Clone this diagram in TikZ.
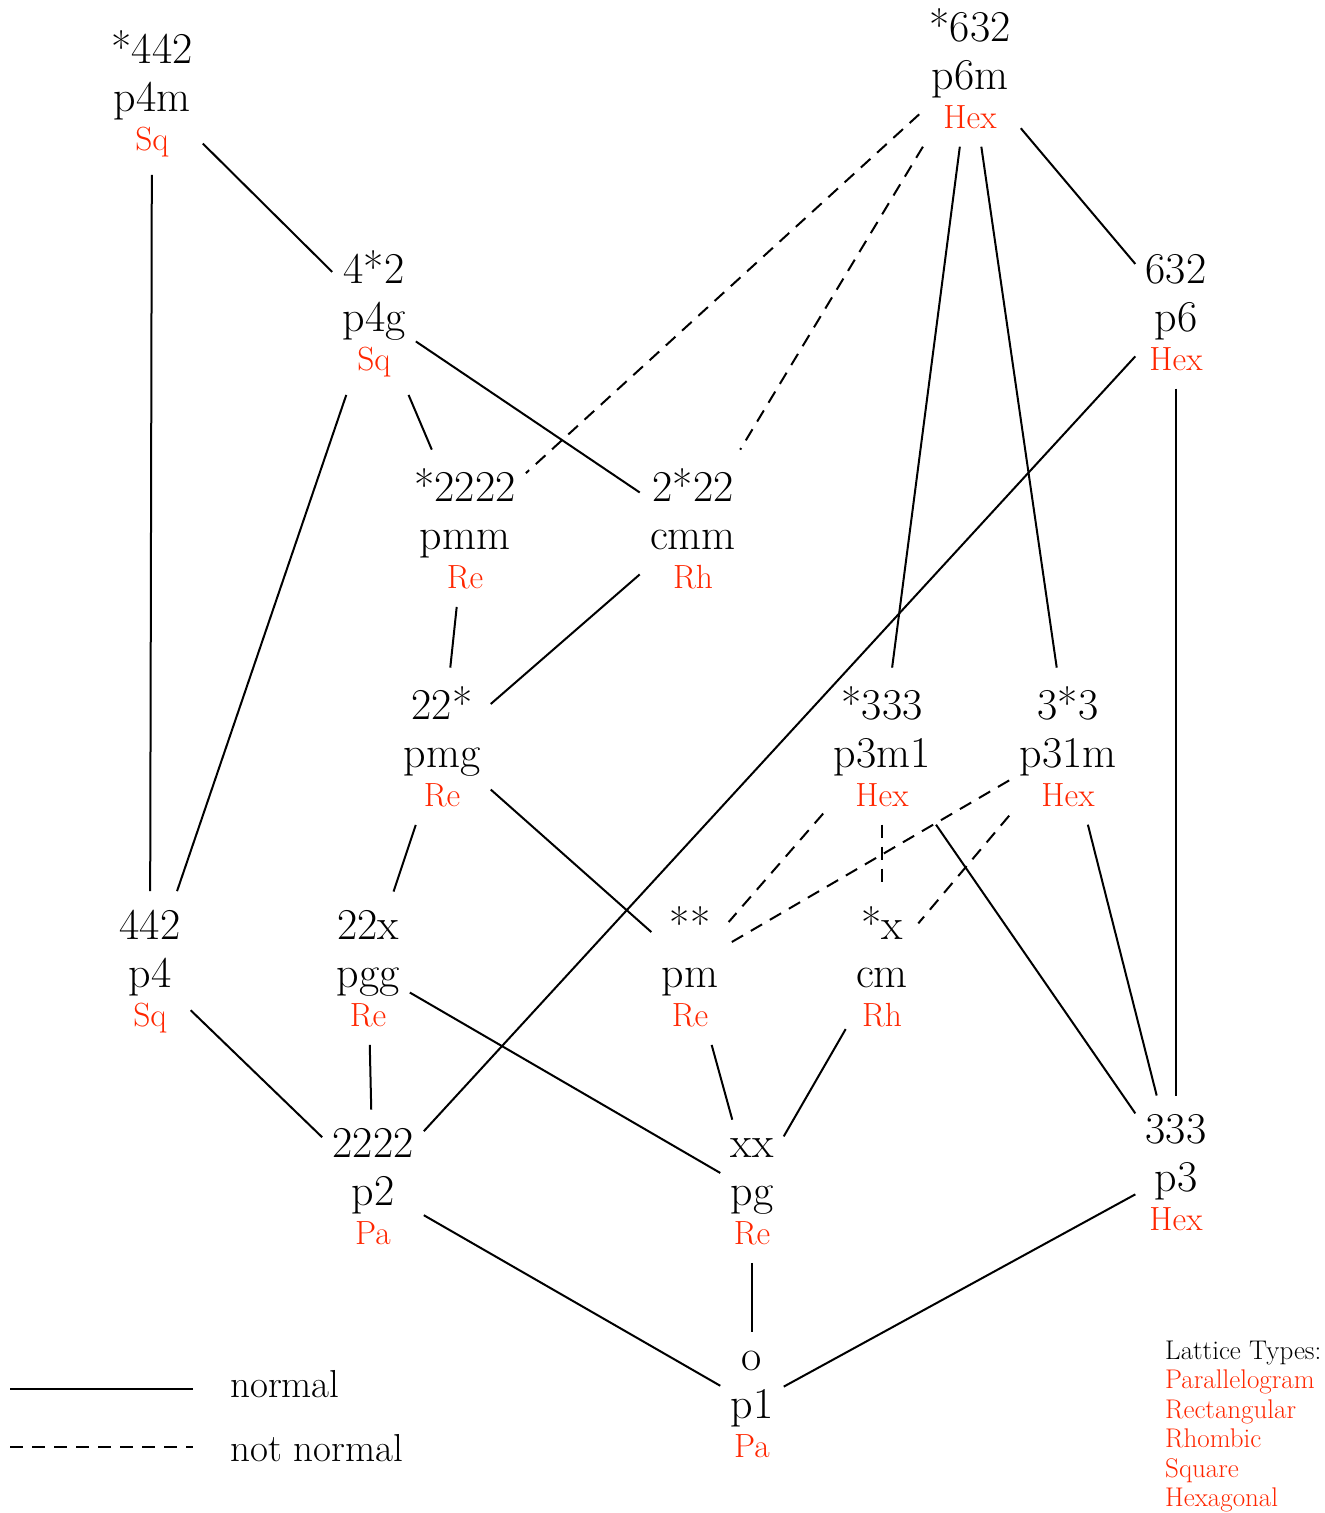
\documentclass[tikz,border=0pt]{standalone}
\usetikzlibrary{fit}
\definecolor{latred}{RGB}{255,38,0}
\tikzset{
  orb/.style={inner sep=0pt, anchor=base, font=\fontsize{44}{52}\selectfont},
  lat/.style={inner sep=0pt, anchor=base, text=latred, font=\fontsize{33.5}{40}\selectfont},
  grpbox/.style={rectangle, draw=none, inner xsep=10pt, inner ysep=18pt},
  normaledge/.style={line width=2pt},
  notnormal/.style={line width=2pt, dash pattern=on 13pt off 9pt},
  legtext/.style={inner sep=0pt, anchor=base west, font=\fontsize{39}{46}\selectfont},
  lattext/.style={inner sep=0pt, anchor=base west, font=\fontsize{27}{32}\selectfont},
}
\newcommand\wpgroup[6]{%
  \node[orb] (#1o) at (#2,#3) {#4};
  \node[orb] (#1i) at (#2,#3+48) {#5};
  \node[lat] (#1l) at (#2,#3+87) {#6};
  \node[grpbox, fit=(#1o)(#1i)(#1l)] (#1) {};
}
\begin{document}
\begin{tikzpicture}[x=1pt,y=-1pt]
\useasboundingbox (0,0) rectangle (1325,1513);

\wpgroup{p4m}{152}{63}{*442}{p4m}{Sq}
\wpgroup{p6m}{970}{41}{*632}{p6m}{Hex}
\wpgroup{p4g}{374}{283}{4*2}{p4g}{Sq}
\wpgroup{p6}{1176}{283}{632}{p6}{Hex}
\wpgroup{pmm}{465}{501}{*2222}{pmm}{Re}
\wpgroup{cmm}{693}{501}{2*22}{cmm}{Rh}
\wpgroup{pmg}{442}{719}{22*}{pmg}{Re}
\wpgroup{p3m1}{882}{719}{*333}{p3m1}{Hex}
\wpgroup{p31m}{1068}{719}{3*3}{p31m}{Hex}
\wpgroup{p4}{150}{939}{442}{p4}{Sq}
\wpgroup{pgg}{368}{939}{22x}{pgg}{Re}
\wpgroup{pm}{690}{939}{**}{pm}{Re}
\wpgroup{cm}{882}{939}{*x}{cm}{Rh}
\wpgroup{p2}{373}{1157}{2222}{p2}{Pa}
\wpgroup{pg}{752}{1157}{xx}{pg}{Re}
\wpgroup{p3}{1176}{1143}{333}{p3}{Hex}
\wpgroup{p1}{752}{1370}{o}{p1}{Pa}

% normal subgroups
\draw[normaledge] (p4m) -- (p4);
\draw[normaledge] (p4m) -- (p4g);
\draw[normaledge] (p4g) -- (p4);
\draw[normaledge] (p4g) -- (pmm);
\draw[normaledge] (p4g) -- (cmm);
\draw[normaledge] (p6m) -- (p6);
\draw[normaledge] (p6m) -- (p3m1);
\draw[normaledge] (p6m) -- (p31m);
\draw[normaledge] (p6) -- (p2);
\draw[normaledge] (p6) -- (p3);
\draw[normaledge] (pmm) -- (pmg);
\draw[normaledge] (cmm) -- (pmg);
\draw[normaledge] (pmg) -- (pgg);
\draw[normaledge] (pmg) -- (pm);
\draw[normaledge] (p3m1) -- (p3);
\draw[normaledge] (p31m) -- (p3);
\draw[normaledge] (p4) -- (p2);
\draw[normaledge] (pgg) -- (p2);
\draw[normaledge] (pgg) -- (pg);
\draw[normaledge] (pm) -- (pg);
\draw[normaledge] (cm) -- (pg);
\draw[normaledge] (p2) -- (p1);
\draw[normaledge] (pg) -- (p1);
\draw[normaledge] (p3) -- (p1);

% not normal
\draw[notnormal] (p6m) -- (pmm);
\draw[notnormal] (p6m) -- (cmm);
\draw[notnormal] (p3m1) -- (pm);
\draw[notnormal] (p3m1) -- (cm);
\draw[notnormal] (p31m) -- (pm);
\draw[notnormal] (p31m) -- (cm);

% legend
\coordinate (ln1) at (10,1389);
\coordinate (ln2) at (193,1389);
\coordinate (ld1) at (10,1447);
\coordinate (ld2) at (193,1447);
\draw[normaledge] (ln1) -- (ln2);
\draw[notnormal] (ld1) -- (ld2);
\node[legtext] (lnt) at (230,1397) {normal};
\node[legtext] (ldt) at (230,1461) {not normal};

\node[lattext] (lt0) at (1165,1359) {Lattice Types:};
\node[lattext, text=latred] (lt1) at (1165,1388.5) {Parallelogram};
\node[lattext, text=latred] (lt2) at (1165,1418) {Rectangular};
\node[lattext, text=latred] (lt3) at (1165,1447.5) {Rhombic};
\node[lattext, text=latred] (lt4) at (1165,1477) {Square};
\node[lattext, text=latred] (lt5) at (1165,1506.5) {Hexagonal};
\end{tikzpicture}
\end{document}
